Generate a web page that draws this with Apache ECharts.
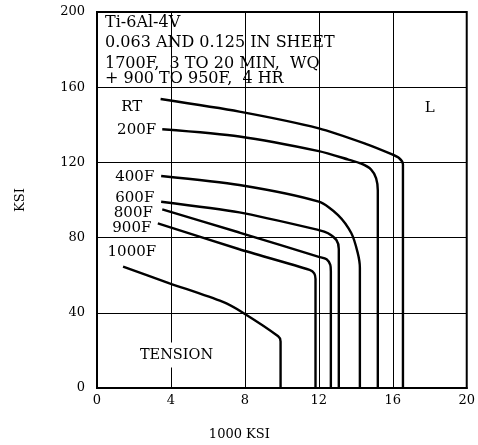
<!DOCTYPE html>
<html>
<head>
<meta charset="utf-8">
<script src="https://cdn.jsdelivr.net/npm/echarts@6/dist/echarts.min.js"></script>
<style>
  html, body { margin: 0; padding: 0; background: #fff; }
  #main { width: 478px; height: 445px; }
</style>
</head>
<body>
<div id="main"></div>
<script>
// ticks
var xTicks = [0, 4, 8, 12, 16, 20];
var yTicks = [0, 40, 80, 120, 160, 200];

// curves: [1000 KSI, KSI]
var rtData = [[3.44, 153.7], [7.7, 147], [12, 138.1], [14.5, 130], [15.9, 124.5], [16.35, 122.2], [16.55, 119], [16.55, 0]];
var f200Data = [[3.53, 137.6], [7.7, 133.8], [12, 126], [13.6, 121.5], [14.3, 119.3], [14.83, 116.2], [15.1, 111.5], [15.19, 105], [15.19, 0]];
var f400Data = [[3.47, 112.8], [7.7, 108], [12, 99.1], [13.04, 92], [13.76, 82.3], [14.1, 72], [14.22, 64], [14.22, 0]];
var f600Data = [[3.47, 99.1], [7.7, 93.4], [12, 84], [12.5, 82.3], [12.95, 78.7], [13.08, 74], [13.08, 0]];
var f800Data = [[3.53, 95], [7.7, 82.7], [12, 69.8], [12.42, 68.5], [12.62, 65.5], [12.65, 62], [12.65, 0]];
var f900Data = [[3.29, 87.6], [7.7, 73.8], [11.5, 62.8], [11.75, 61], [11.82, 58], [11.82, 0]];
var f1000Data = [[1.41, 64.5], [3.92, 55.7], [6.78, 45.9], [7.85, 40.3], [9.8, 27.5], [9.93, 24.8], [9.93, 0]];

var curveNames = ['RT', '200F', '400F', '600F', '800F', '900F', '1000F'];
var curveData = [rtData, f200Data, f400Data, f600Data, f800Data, f900Data, f1000Data];

// where the curve names end (right edge, in data units)
var labelSpots = [[2.45, 149.5], [3.2, 137], [3.1, 112], [3.1, 101], [3.02, 93], [2.94, 85], [3.2, 72.3]];

var noteLines = ['Ti-6Al-4V', '0.063 AND 0.125 IN SHEET', '1700F,  3 TO 20 MIN,  WQ', '+ 900 TO 950F,  4 HR'];
var noteY = [23, 43, 64, 79];

var serif = '"DejaVu Serif", "Liberation Serif", serif';
var myChart = echarts.init(document.getElementById('main'));

var series = [];
for (var i = 0; i < curveData.length; i++) {
    series.push({
        name: curveNames[i],
        type: 'line',
        data: curveData[i],
        symbol: 'none',
        smooth: 0.25,
        lineStyle: { color: '#000', width: 2.4 },
        z: 5
    });
}

var option = {
    backgroundColor: '#fff',
    animation: false,
    textStyle: { fontFamily: serif },
    grid: {
        left: 97, right: 8, top: 12, bottom: 57,
        show: true, borderColor: '#000', borderWidth: 2
    },
    xAxis: {
        type: 'value', min: 0, max: 20, interval: 4,
        axisLine: { show: true, lineStyle: { color: '#000', width: 2 } },
        axisTick: { show: false },
        axisLabel: { color: '#000', fontSize: 13, margin: 6, fontFamily: serif },
        splitLine: { show: true, lineStyle: { color: '#000', width: 1 } }
    },
    yAxis: {
        type: 'value', min: 0, max: 200, interval: 40,
        name: 'KSI', nameLocation: 'middle', nameGap: 70, nameRotate: 90,
        nameTextStyle: { color: '#000', fontSize: 13, fontFamily: serif },
        axisLine: { show: true, lineStyle: { color: '#000', width: 2 } },
        axisTick: { show: false },
        axisLabel: { color: '#000', fontSize: 13, margin: 12, fontFamily: serif },
        splitLine: { show: true, lineStyle: { color: '#000', width: 1 } }
    },
    series: series
};
myChart.setOption(option);

// text placed after the chart is laid out, through the axis scales
var g = [];
for (var j = 0; j < curveNames.length; j++) {
    var p = myChart.convertToPixel({ gridIndex: 0 }, labelSpots[j]);
    g.push({
        type: 'text', x: p[0], y: p[1], z: 10,
        style: { text: curveNames[j], font: '15px ' + serif, fill: '#000', align: 'right', verticalAlign: 'middle' }
    });
}
for (var k = 0; k < noteLines.length; k++) {
    g.push({
        type: 'text', x: 105, y: noteY[k], z: 10,
        style: { text: noteLines[k], font: '16px ' + serif, fill: '#000', verticalAlign: 'middle' }
    });
}
var lp = myChart.convertToPixel({ gridIndex: 0 }, [18, 149]);
g.push({ type: 'text', x: lp[0], y: lp[1], z: 10,
    style: { text: 'L', font: '15px ' + serif, fill: '#000', align: 'center', verticalAlign: 'middle' } });
var tp = myChart.convertToPixel({ gridIndex: 0 }, [4.3, 17.5]);
g.push({ type: 'text', x: tp[0], y: tp[1], z: 10,
    style: { text: 'TENSION', font: '14.5px ' + serif, fill: '#000', align: 'center', verticalAlign: 'middle',
        backgroundColor: '#fff', padding: [5, 2] } });
var xp = myChart.convertToPixel({ gridIndex: 0 }, [7.7, 0]);
g.push({ type: 'text', x: xp[0], y: 435, z: 10,
    style: { text: '1000 KSI', font: '13px ' + serif, fill: '#000', align: 'center', verticalAlign: 'middle' } });
myChart.setOption({ graphic: g });
</script>
</body>
</html>
